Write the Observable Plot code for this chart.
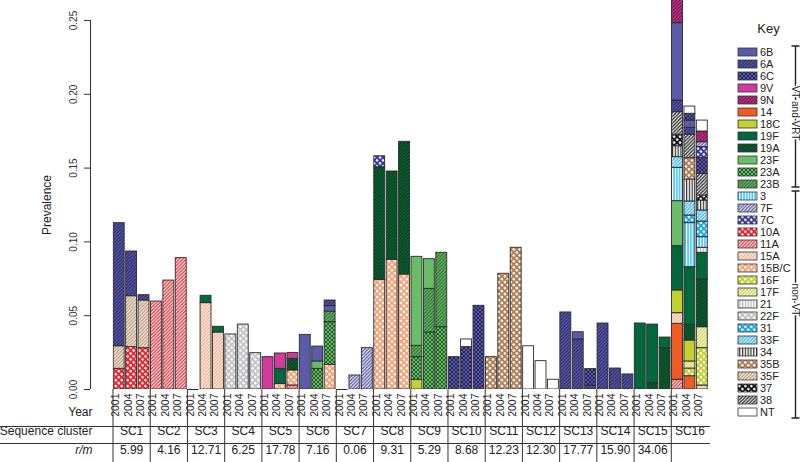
<!DOCTYPE html>
<html><head><meta charset="utf-8">
<script src="https://cdn.jsdelivr.net/npm/d3@7"></script>
<script src="https://cdn.jsdelivr.net/npm/@observablehq/plot@0.6"></script>
<style>
html,body{margin:0;padding:0;background:#fff;}
#chart{width:800px;height:462px;overflow:hidden;}
</style></head><body><div id="chart"></div>
<script>
// ---------- data ----------
const clusters = ["SC1","SC2","SC3","SC4","SC5","SC6","SC7","SC8","SC9","SC10","SC11","SC12","SC13","SC14","SC15","SC16"];
const years = ["2001","2004","2007"];
const rm = ["5.99","4.16","12.71","6.25","17.78","7.16","0.06","9.31","5.29","8.68","12.23","12.30","17.77","15.90","34.06",""];
const serotypes = ["6B","6A","6C","9V","9N","14","18C","19F","19A","23F","23A","23B","3","7F","7C","10A","11A","15A","15B/C","16F","17F","21","22F","31","33F","34","35B","35F","37","38","NT"];
const yTicks = [0, 0.05, 0.10, 0.15, 0.20, 0.25];

// stacks per cluster: [2001, 2004, 2007], each bottom-to-top [serotype, prevalence]
const SC1 = [[["10A",0.014],["35F",0.0153],["6A",0.0834]],[["10A",0.0287],["35F",0.0345],["6A",0.0303]],[["10A",0.028],["35F",0.0323],["6A",0.0036]]];
const SC2 = [[["11A",0.0596]],[["11A",0.0738]],[["11A",0.089]]];
const SC3 = [[],[["15A",0.0585],["19F",0.005]],[["15A",0.0386],["19F",0.0039]]];
const SC4 = [[["22F",0.0373]],[["22F",0.044]],[["22F",0.0246]]];
const SC5 = [[["9V",0.0219]],[["15B/C",0.0038],["19F",0.0102],["9V",0.0104]],[["11A",0.0027],["15B/C",0.0102],["19A",0.0079],["9V",0.004]]];
const SC6 = [[["6B",0.037]],[["23A",0.014],["23F",0.005],["6B",0.0101]],[["15B/C",0.0167],["23A",0.0289],["23B",0.0072],["6B",0.0037],["6A",0.0038]]];
const SC7 = [[],[["7F",0.0095]],[["7F",0.028]]];
const SC8 = [[["15B/C",0.0743],["19A",0.0763],["7C",0.0074]],[["15B/C",0.0879],["19A",0.0598]],[["15B/C",0.0779],["19A",0.0899]]];
const SC9 = [[["18C",0.0066],["23A",0.0153],["23B",0.0077],["23F",0.0603]],[["23A",0.0386],["23B",0.0296],["23F",0.0201]],[["23A",0.0422],["23B",0.0504]]];
const SC10 = [[["6C",0.0219]],[["6C",0.0287],["NT",0.0052]],[["6C",0.0567]]];
const SC11 = [[["35B",0.0219]],[["35B",0.0784]],[["35B",0.096]]];
const SC12 = [[["NT",0.0293]],[["NT",0.0192]],[["NT",0.0066]]];
const SC13 = [[["6A",0.0522]],[["6A",0.0339],["6B",0.0049]],[["6A",0.0027],["6C",0.0111]]];
const SC14 = [[["6A",0.0447]],[["6A",0.0142]],[["6A",0.0102]]];
const SC15 = [[["19F",0.0447]],[["19A",0.0043],["19F",0.0397]],[["19A",0.028],["19F",0.0072]]];
const SC16 = [
 [["11A",0.0066],["14",0.0379],["15A",0.0072],["18C",0.0154],["19F",0.030],["23F",0.0305],["3",0.0226],["33F",0.0072],["34",0.0074],["37",0.0078],["38",0.0153],["6A",0.0079],["6B",0.0524],["9N",0.017]],
 [["14",0.009],["16F",0.0052],["17F",0.0048],["18C",0.0142],["19A",0.0106],["19F",0.0391],["3",0.0298],["31",0.0052],["33F",0.0095],["34",0.0149],["35B",0.0144],["38",0.0159],["6A",0.0047],["6B",0.0049],["6C",0.0046],["NT",0.0049]],
 [["15A",0.0027],["16F",0.0253],["17F",0.0142],["19A",0.0323],["19F",0.0181],["21",0.0034],["3",0.0072],["31",0.0106],["33F",0.0075],["34",0.0067],["37",0.0034],["38",0.0147],["6C",0.0109],["7C",0.0072],["7F",0.0033],["9N",0.0073],["NT",0.0074]]
];
const clusterStacks = [SC1,SC2,SC3,SC4,SC5,SC6,SC7,SC8,SC9,SC10,SC11,SC12,SC13,SC14,SC15,SC16];

// ---------- styles (fill kind, background, foreground) ----------
const serotypeStyle = [
 ["solid","#5b5ca9"],["hatch","#5b5ca9","#1f205a"],["cross","#5b5ca9","#1c1d52"],
 ["solid","#d23a9c"],["hatch","#c7368d","#5a0d3c"],["solid","#f05a23"],["solid","#c2d130"],
 ["solid","#00683a"],["hatch","#0f6a37","#002a12"],["solid","#69bd69"],["cross","#69bd69","#17561f"],
 ["hatch","#69bd69","#1d5a23"],["vstripe","#3ec1ef","#ffffff"],["hatch","#ffffff","#4a4aa2"],
 ["dots","#38389a","#ffffff"],["dots","#e5252e","#ffffff"],["hatch","#ffffff","#e5252e"],
 ["hatch","#ffffff","#f3a37a"],["dots","#f3a37a","#ffffff"],["dots","#c2d130","#ffffff"],
 ["hatch","#ffffff","#c9cd3c"],["vstripe","#ffffff","#b5b5b5"],["dots","#c3c3c8","#ffffff"],
 ["dots","#1aa8e0","#ffffff"],["hatch","#ffffff","#25ade4"],["vstripe","#ffffff","#2b2b2b"],
 ["dots","#b07e55","#ffffff"],["hatch","#ffffff","#b48a66"],["dots","#161616","#ffffff"],
 ["hatch","#ffffff","#1e1e1e"],["solid","#ffffff"]
];

// ---------- build tables ----------
const bars = [], segs = [];
clusterStacks.forEach((stacks, g) => stacks.forEach((stack, k) => {
  const i = g * 3 + k; let c = 0;
  stack.forEach(([s, v]) => { segs.push({i, s, y1: c, y2: c + v}); c += v; });
  bars.push({i, year: years[k], total: c});
}));

const W = 800, H = 462, ML = 112.5, MR = 92, MB = 73;
const step = (W - MR - ML) / 48;
const px = p => -0.5 + (p - ML) / step;   // pixel -> x units (for decorations)
const pxY = p => -(p) / 1476;              // pixels below baseline -> y units
const fillOf = s => `url(#pat${serotypes.indexOf(s)})`;
const font = "'Liberation Sans', Arial, Helvetica, sans-serif";

const plot = Plot.plot({
  width: W, height: H, marginLeft: ML, marginRight: MR, marginTop: 0, marginBottom: MB,
  x: {domain: [-0.5, 47.5], axis: null},
  y: {domain: [0, 389 / 1476], axis: null},
  color: {type: "identity"},
  style: {fontFamily: font, fontSize: "12px", background: "#fff", color: "#222", overflow: "visible"},
  marks: [
    Plot.rect(segs, {x1: d => d.i - 0.44, x2: d => d.i + 0.44, y1: "y1", y2: "y2", fill: d => fillOf(d.s), stroke: "#2a2a2a", strokeWidth: 0.9, clip: true}),
    Plot.ruleY(bars.filter(b => b.total === 0), {x1: d => d.i - 0.44, x2: d => d.i + 0.44, y: 0, stroke: "#2a2a2a", strokeWidth: 1}),
    // y axis (R style)
    Plot.ruleX([px(90)], {x: d => d, y1: 0, y2: 0.25, stroke: "#333"}),
    Plot.ruleY(yTicks, {y: d => d, x1: px(84), x2: px(90), stroke: "#333"}),
    Plot.text(yTicks, {y: d => d, x: px(73), text: d => d.toFixed(2), rotate: -90, fontSize: 10, fill: "#333"}),
    Plot.text(["Prevalence"], {x: px(47), y: 0.125, text: d => d, rotate: -90, fontSize: 12}),
    // table
    Plot.text(bars, {x: "i", text: "year", rotate: -90, frameAnchor: "bottom", dy: 4, textAnchor: "end", fontSize: 10.5}),
    Plot.text(["Year"], {x: px(92), text: d => d, frameAnchor: "bottom", dy: 26, textAnchor: "end", fontSize: 12}),
    Plot.text(["Sequence cluster"], {x: px(92), text: d => d, frameAnchor: "bottom", dy: 45.5, textAnchor: "end", fontSize: 12}),
    Plot.text(["r/m"], {x: px(92), text: d => d, frameAnchor: "bottom", dy: 64, textAnchor: "end", fontSize: 12, fontStyle: "italic"}),
    Plot.text(clusters, {x: (d, g) => g * 3 + 1, text: d => d, frameAnchor: "bottom", dy: 45.5, fontSize: 12}),
    Plot.text(rm, {x: (d, g) => g * 3 + 1, text: d => d, frameAnchor: "bottom", dy: 64, fontSize: 12}),
    Plot.ruleY([pxY(37), pxY(54)], {y: d => d, x1: px(0), x2: px(710), stroke: "#333"}),
    Plot.ruleX(d3.range(16), {x: g => g * 3 - 0.5, y1: 0, y2: pxY(73), stroke: "#333"})
  ]
});

// ---------- patterns ----------
const svg = d3.select(plot);
const defs = svg.insert("defs", ":first-child");
serotypeStyle.forEach(([kind, bg, fg], k) => {
  const p = defs.append("pattern").attr("id", "pat" + k).attr("patternUnits", "userSpaceOnUse");
  let w = 4;
  if (kind === "hatch") w = 3.4;
  if (kind === "dots") w = 4.2;
  if (kind === "vstripe") w = 2.8;
  p.attr("width", w).attr("height", w);
  p.append("rect").attr("width", w).attr("height", w).attr("fill", bg);
  if (kind === "hatch") {
    p.append("path").attr("d", `M0,${w} L${w},0 M${-w/2},${w/2} L${w/2},${-w/2} M${w/2},${w*1.5} L${w*1.5},${w/2}`)
      .attr("stroke", fg).attr("stroke-width", bg === "#ffffff" ? 1.3 : 1.0);
  } else if (kind === "cross") {
    p.append("path").attr("d", `M0,0 L${w},${w} M${w},0 L0,${w}`).attr("stroke", fg).attr("stroke-width", 0.9);
  } else if (kind === "dots") {
    p.attr("patternTransform", "rotate(45)");
    p.append("circle").attr("cx", w/2).attr("cy", w/2).attr("r", 1.35).attr("fill", fg);
  } else if (kind === "vstripe") {
    p.append("rect").attr("x", 0).attr("width", 1.2).attr("height", w).attr("fill", fg);
  }
});

// ---------- legend ----------
const lg = svg.append("g").attr("font-family", font).attr("fill", "#222").attr("text-anchor", "start");
lg.append("text").attr("x", 768.5).attr("y", 33).attr("text-anchor", "middle").attr("font-size", 13).text("Key");
serotypes.forEach((s, k) => {
  const y = 52 + 12 * k;
  lg.append("rect").attr("x", 738).attr("y", y - 4).attr("width", 19).attr("height", 8)
    .attr("fill", `url(#pat${k})`).attr("stroke", "#333").attr("stroke-width", 0.8);
  lg.append("text").attr("x", 760).attr("y", y + 4).attr("font-size", 11).attr("text-anchor", "start").text(s);
});
// brackets
const bx = 795.5;
const br = svg.append("g").attr("stroke", "#222").attr("stroke-width", 1.4).attr("fill", "none");
br.append("path").attr("d", `M${bx},46 V187 M${bx-4},46 H${bx+4} M${bx-4},187 H${bx+4} M${bx-4},191 H${bx+4} M${bx},191 V418 M${bx-4},418 H${bx+4}`);
const lab = (t, y) => svg.append("text").attr("transform", `translate(${bx},${y}) rotate(90)`)
  .attr("text-anchor", "middle").attr("dy", "0.35em").attr("font-family", font).attr("font-size", 10)
  .attr("fill", "#222").attr("stroke", "#fff").attr("stroke-width", 3).attr("paint-order", "stroke").text(t);
lab("VT and VRT", 113);
lab("non-VT", 300);

document.getElementById("chart").appendChild(plot);
</script>
</body></html>
